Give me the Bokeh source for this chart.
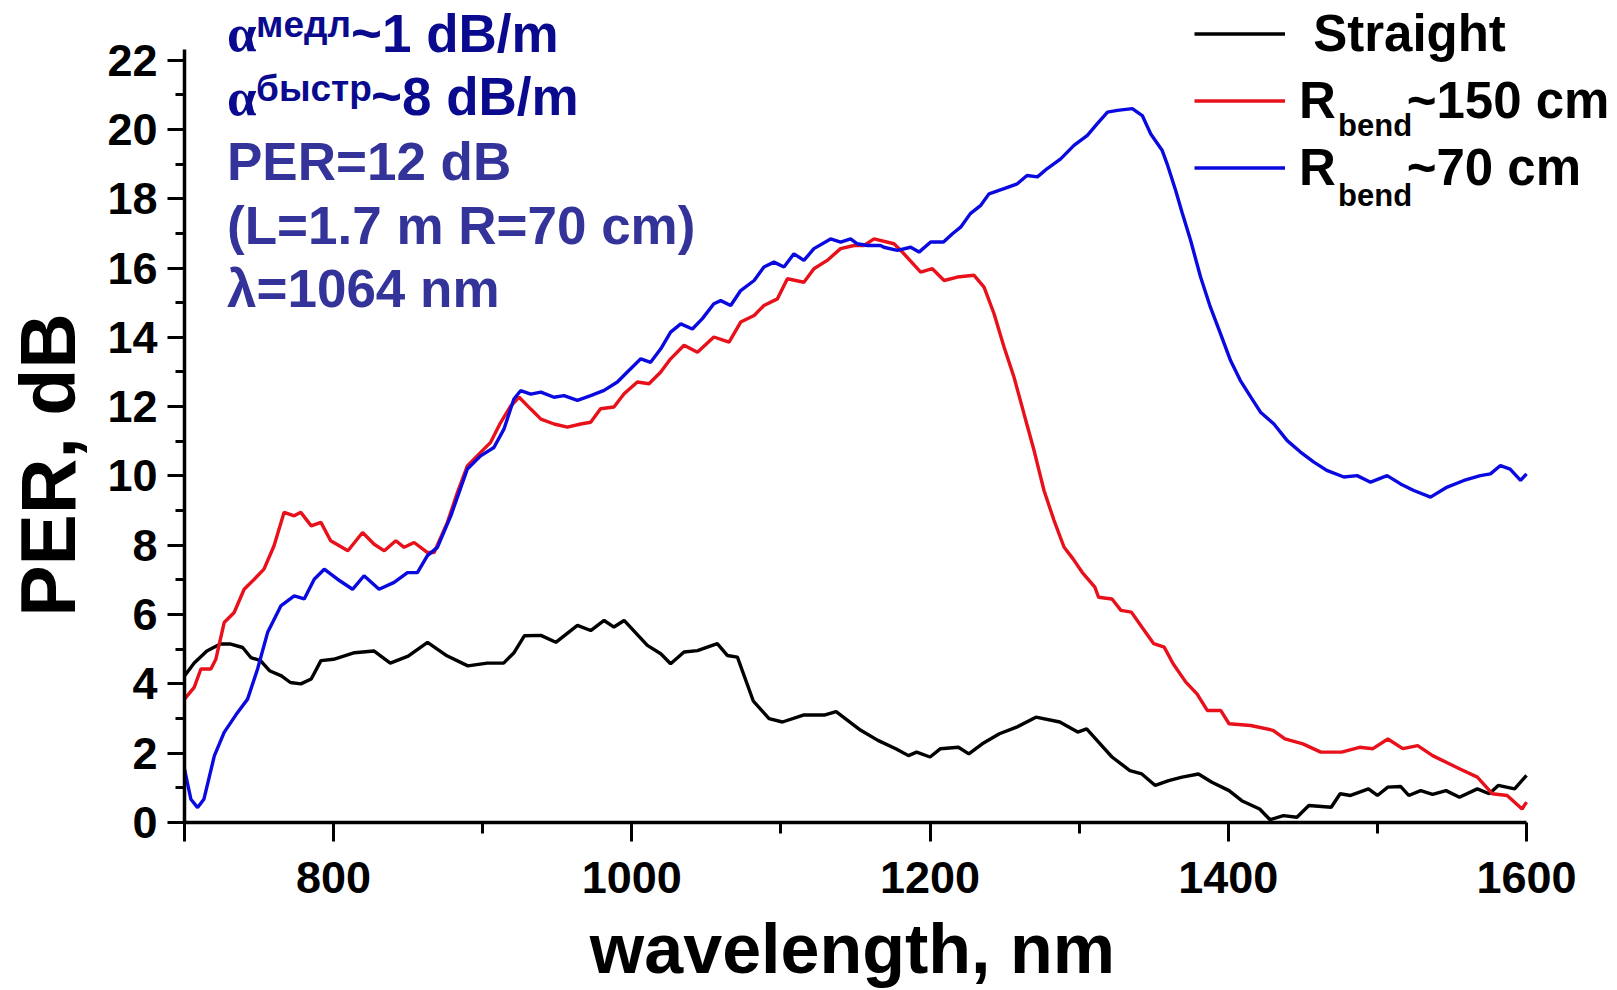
from bokeh.plotting import figure
from bokeh.models import Label, Legend, LegendItem, FixedTicker, Range1d
from bokeh.embed import file_html
from bokeh.resources import INLINE

# ---------------- data ----------------
straight_x = [700, 706.5, 715, 724, 731, 739, 744.5, 751, 757, 765, 771, 778, 785, 791.5, 800,
              814, 827, 838, 850, 863, 876, 890, 903, 914, 921, 928, 939, 949, 963.5, 972.4,
              981.4, 988, 994.8, 1010.4, 1019.4, 1026, 1035, 1044, 1057.3, 1064, 1070.8, 1081.5,
              1092, 1101, 1115, 1129, 1137, 1153.5, 1165, 1177, 1185.5, 1191, 1200, 1207, 1219,
              1226, 1235, 1246.5, 1258, 1271, 1287, 1299, 1305, 1313, 1322, 1334, 1342, 1351,
              1360, 1369, 1380, 1389, 1400.5, 1409, 1421, 1428, 1437, 1446, 1454, 1469, 1475,
              1482, 1494, 1500, 1507, 1515.5, 1521, 1529, 1537, 1546, 1555, 1567, 1575, 1581,
              1592, 1600]
straight_y = [4.23, 4.6, 4.95, 5.15, 5.15, 5.05, 4.76, 4.67, 4.38, 4.23, 4.04, 4.0, 4.14, 4.67, 4.71,
              4.9, 4.95, 4.6, 4.8, 5.2, 4.81, 4.52, 4.6, 4.6, 4.9, 5.39, 5.4, 5.2, 5.69, 5.54,
              5.83, 5.64, 5.83, 5.11, 4.87, 4.58, 4.92, 4.96, 5.16, 4.82, 4.77, 3.5,
              3.0, 2.9, 3.1, 3.1, 3.2, 2.66, 2.37, 2.13, 1.93, 2.03, 1.89, 2.13, 2.17,
              1.98, 2.27, 2.56, 2.75, 3.04, 2.9, 2.61, 2.7, 2.32, 1.89, 1.5, 1.4, 1.07,
              1.21, 1.31, 1.4, 1.16, 0.92, 0.63, 0.39, 0.08, 0.2, 0.15, 0.49, 0.44, 0.83,
              0.78, 0.97, 0.78, 1.02, 1.04, 0.78, 0.92, 0.81, 0.92, 0.73, 0.97, 0.83, 1.07,
              0.97, 1.36]

r150_x = [700, 706.5, 711, 717.7, 721, 726.6, 733.3, 740, 746.8, 753.3, 760, 766.8, 773.6, 778, 785,
          791.5, 798, 809.6, 819.4, 827.2, 834, 841.7, 847.3, 854, 863, 867.4, 876.3, 883, 889.7,
          898.6, 905.3, 912, 918.8, 924.4, 932.2, 939, 947.8, 956.8, 965.7, 972.4, 979, 988,
          994.8, 1003.7, 1011.5, 1019.4, 1026, 1035, 1044, 1055, 1065.2, 1073, 1082, 1088.6,
          1097.6, 1104.3, 1115.4, 1122.1, 1131, 1140, 1149, 1155.7, 1162.4, 1175.8, 1182.5,
          1193.7, 1201.5, 1209.4, 1218.3, 1229.5, 1236.2, 1242.9, 1249.6, 1256.3, 1263, 1269.7,
          1276.4, 1283.1, 1289.8, 1296, 1302, 1310.5, 1313, 1322, 1328, 1335, 1342, 1350, 1357,
          1363, 1371.5, 1379, 1386, 1395, 1400.5, 1415, 1430, 1438, 1450, 1462, 1476, 1488,
          1497, 1507, 1517, 1527, 1537, 1555, 1567, 1577, 1587, 1597, 1600]
r150_y = [3.56, 3.9, 4.43, 4.43, 4.71, 5.77, 6.06, 6.73, 7.02, 7.31, 7.98, 8.95, 8.85, 8.95, 8.56,
          8.66, 8.13, 7.84, 8.37, 8.03, 7.84, 8.13, 7.94, 8.08, 7.79, 7.79, 8.66, 9.52, 10.29,
          10.68, 10.97, 11.54, 12.02, 12.27, 11.93, 11.64, 11.5, 11.41, 11.5, 11.55, 11.94, 11.99,
          12.37, 12.71, 12.66, 13.0, 13.38, 13.77, 13.57, 14.01, 13.86, 14.44, 14.63, 14.92,
          15.11, 15.69, 15.59, 15.98, 16.22, 16.56, 16.65, 16.65, 16.84, 16.7, 16.41,
          15.88, 15.98, 15.64, 15.74, 15.79, 15.45, 14.68, 13.72, 12.85, 11.79, 10.74,
          9.58, 8.72, 7.95, 7.6, 7.22, 6.79, 6.5, 6.45, 6.12, 6.07, 5.64, 5.16, 5.06,
          4.58, 4.05, 3.71, 3.23, 3.23, 2.85, 2.8, 2.66, 2.41, 2.27, 2.03, 2.03, 2.17,
          2.13, 2.41, 2.13, 2.22, 1.93, 1.55, 1.31, 0.83, 0.78, 0.39, 0.59]

r70_x = [700, 704.3, 708.8, 713, 720, 726.6, 735.5, 742.3, 749, 755.7, 764.6, 773.6, 780.3, 787,
         793.7, 802.6, 812.7, 820.4, 830.5, 840.6, 849.5, 856.2, 862.9, 869.6, 878.6, 889.7, 898.6,
         907.5, 914.2, 920.9, 925.4, 932.2, 939, 947.8, 954.5, 963.5, 972.4, 981.4, 990.3, 997,
         1006, 1012.6, 1019.4, 1026, 1032.8, 1040.6, 1047.3, 1055, 1059.6, 1066.3, 1073, 1082,
         1088.6, 1095.3, 1102, 1108.7, 1115.4, 1122.1, 1133.3, 1140, 1146.7, 1151.2, 1158,
         1166.8, 1169, 1178, 1187, 1192.6, 1200.4, 1209, 1215, 1220.5, 1227, 1234, 1239.5,
         1249.6, 1258.5, 1265, 1272, 1278.6, 1287.6, 1296.5, 1305.5, 1312, 1319, 1325.6, 1335.6,
         1342.3, 1348, 1355.7, 1359, 1364.7, 1369, 1374.7, 1381.4, 1388, 1394.8, 1401.5, 1408,
         1415, 1421.6, 1430.6, 1439.5, 1448.4, 1457.4, 1466, 1477.5, 1486.4, 1495.4, 1506.5,
         1515.5, 1524.4, 1535.6, 1546.8, 1558, 1569, 1575.8, 1582.5, 1589, 1596, 1600]
r70_y = [1.54, 0.67, 0.43, 0.67, 1.92, 2.6, 3.17, 3.56, 4.43, 5.48, 6.25, 6.54, 6.45, 7.02,
         7.31, 7.02, 6.73, 7.12, 6.73, 6.93, 7.21, 7.21, 7.7, 7.94, 8.85, 10.2, 10.58,
         10.82, 11.35, 12.22, 12.46, 12.36, 12.42, 12.27, 12.32, 12.18, 12.32, 12.47, 12.71, 13.0,
         13.38, 13.28, 13.67, 14.15, 14.39, 14.24, 14.54, 14.97, 15.06, 14.92, 15.35, 15.64,
         16.03, 16.17, 16.03, 16.41, 16.22, 16.56, 16.84, 16.75, 16.84, 16.7, 16.65,
         16.65, 16.6, 16.51, 16.6, 16.46, 16.75, 16.75, 16.99, 17.18, 17.57, 17.81, 18.14,
         18.29, 18.43, 18.67, 18.63, 18.87, 19.15, 19.54, 19.83, 20.16, 20.5, 20.55, 20.6,
         20.4, 19.87, 19.39, 19.0, 18.24, 17.6, 16.8, 15.74, 14.87, 14.1, 13.33, 12.76,
         12.28, 11.84, 11.5, 11.02, 10.69, 10.4, 10.16, 9.97, 10.01, 9.82, 10.01,
         9.77, 9.58, 9.39, 9.68, 9.87, 10.01, 10.06, 10.3, 10.2, 9.87, 10.06]

x_major_ticks = [700, 800, 1000, 1200, 1400, 1600]
x_tick_labels = {700: "", 800: "800", 1000: "1000", 1200: "1200", 1400: "1400", 1600: "1600"}
x_minor_ticks = [900, 1100, 1300, 1500]
y_major_ticks = [0, 2, 4, 6, 8, 10, 12, 14, 16, 18, 20, 22]
y_minor_ticks = [1, 3, 5, 7, 9, 11, 13, 15, 17, 19, 21]
x_axis_span = (700, 1600)
y_axis_span = (0, 22.32)

NB = "\u00a0"
series_names = [NB + "Straight", "R" + NB * 5 + "~150 cm", "R" + NB * 5 + "~70 cm"]
series_colors = ["#000000", "#e8101a", "#0a0ae0"]

# ---------------- figure ----------------
W, H = 1617, 990
p = figure(width=W, height=H, output_backend="svg", toolbar_location=None,
           x_range=Range1d(700, 1661), y_range=Range1d(0, 23.72),
           min_border_left=184, min_border_right=0, min_border_top=0, min_border_bottom=168)
p.outline_line_color = None
p.grid.visible = False
p.background_fill_color = "white"
p.border_fill_color = "white"

font = "Liberation Sans"
for ax in (p.xaxis[0], p.yaxis[0]):
    ax.axis_line_width = 3.5
    ax.axis_line_color = "black"
    ax.major_tick_line_width = 3
    ax.minor_tick_line_width = 3
    ax.major_tick_in = 0
    ax.minor_tick_in = 0
    ax.major_label_text_font = font
    ax.major_label_text_font_style = "bold"
    ax.major_label_text_font_size = "45px"
    ax.major_label_text_color = "black"
    ax.axis_label_text_font = font
    ax.axis_label_text_font_style = "bold"
    ax.axis_label_text_color = "black"

p.xaxis[0].bounds = x_axis_span
p.xaxis[0].ticker = FixedTicker(ticks=x_major_ticks, minor_ticks=x_minor_ticks)
p.xaxis[0].major_label_overrides = {k: v for k, v in x_tick_labels.items()}
p.xaxis[0].major_tick_out = 19
p.xaxis[0].minor_tick_out = 11
p.xaxis[0].major_label_standoff = 20
# trailing no-break spaces keep the label centred under the axis line, not the wider frame
p.xaxis[0].axis_label = "wavelength, nm" + NB * 5
p.xaxis[0].axis_label_text_font_size = "70px"
p.xaxis[0].axis_label_standoff = 14

p.yaxis[0].bounds = y_axis_span
p.yaxis[0].ticker = FixedTicker(ticks=y_major_ticks, minor_ticks=y_minor_ticks)
p.yaxis[0].major_tick_out = 17
p.yaxis[0].minor_tick_out = 9
p.yaxis[0].major_label_standoff = 10
p.yaxis[0].axis_label = "PER, dB" + NB * 5
p.yaxis[0].axis_label_text_font_size = "77px"
p.yaxis[0].axis_label_standoff = 13

r_straight = p.line(straight_x, straight_y, line_color=series_colors[0], line_width=3.4)
r_150 = p.line(r150_x, r150_y, line_color=series_colors[1], line_width=3.4)
r_70 = p.line(r70_x, r70_y, line_color=series_colors[2], line_width=3.4)

legend = Legend(items=[LegendItem(label=series_names[0], renderers=[r_straight]),
                       LegendItem(label=series_names[1], renderers=[r_150]),
                       LegendItem(label=series_names[2], renderers=[r_70])],
                location=(1010, 624), orientation="vertical",
                glyph_width=91, glyph_height=61, label_height=61, label_width=10,
                label_standoff=14, spacing=6, padding=0, margin=0,
                border_line_color=None, background_fill_alpha=0,
                label_text_font=font, label_text_font_style="bold",
                label_text_font_size="51px", label_text_color="black")
p.add_layout(legend)

# subscripts of the legend labels
for yy in (20.12, 18.08):
    p.add_layout(Label(x=1473.6, y=yy, text="bend", text_font=font, text_font_style="bold",
                       text_font_size="31px", text_color="black", text_baseline="middle"))

# annotation block (top left)
dark = "#0a0a8f"
mid = "#333399"
def lab(x, y, t, size, color, f=font):
    p.add_layout(Label(x=x, y=y, text=t, text_font=f, text_font_style="bold",
                       text_font_size=size, text_color=color, text_baseline="middle"))

lab(728.5, 22.78, "\u03b1", "53px", dark, "Liberation Serif")
lab(748.0, 23.02, "медл", "37px", dark)
lab(811.7, 22.78, "~1 dB/m", "53px", dark)
lab(728.5, 20.94, "\u03b1", "53px", dark, "Liberation Serif")
lab(748.0, 21.18, "быстр", "37px", dark)
lab(825.1, 20.94, "~8 dB/m", "53px", dark)
lab(728.5, 19.06, "PER=12 dB", "53px", mid)
lab(728.5, 17.23, "(L=1.7 m R=70 cm)", "53px", mid)
lab(728.5, 15.41, "\u03bb=1064 nm", "53px", mid)

open("out.html", "w").write(file_html(p, INLINE))
